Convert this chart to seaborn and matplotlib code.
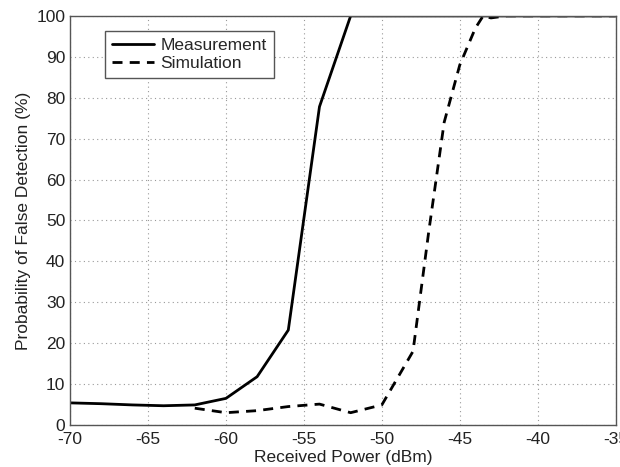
import pandas as pd
import seaborn as sns
import matplotlib.pyplot as plt

# values
meas_power = [-70, -68, -66, -64, -62, -60, -58, -56, -54, -52, -50, -45, -40, -35]
meas_prob = [5.4, 5.2, 4.9, 4.7, 4.9, 6.5, 11.8, 23.2, 77.8, 100, 100, 100, 100, 100]

sim_power = [-62, -60, -58, -56, -54, -52, -50, -48, -47, -46, -45, -44, -43.5, -43, -42, -40, -35]
sim_prob = [4.1, 3.0, 3.5, 4.5, 5.1, 3.0, 4.9, 18, 47, 74, 88, 97, 100, 99.5, 100, 100, 100]

df_meas = pd.DataFrame({'Received Power (dBm)': meas_power, 'prob': meas_prob})
df_sim = pd.DataFrame({'Received Power (dBm)': sim_power, 'prob': sim_prob})

sns.set_style('white')
plt.rcParams['font.family'] = ['Liberation Sans', 'DejaVu Sans']
plt.rcParams['axes.unicode_minus'] = False

fig, ax = plt.subplots(figsize=(6.2, 4.67), dpi=100)
fig.subplots_adjust(left=0.113, right=0.993, top=0.966, bottom=0.09)

sns.lineplot(x='Received Power (dBm)', y='prob', data=df_meas, color='black',
             linewidth=2, label='Measurement', ax=ax)
sns.lineplot(x='Received Power (dBm)', y='prob', data=df_sim, color='black',
             linewidth=2, linestyle=(0, (3.6, 2.6)), label='Simulation', ax=ax)

ax.set_xlim(-70, -35)
ax.set_ylim(0, 100)
ax.set_xticks(range(-70, -34, 5))
ax.set_yticks(range(0, 101, 10))
ax.grid(True, linestyle=(0, (1, 3)), color='#999999', linewidth=0.8)
ax.tick_params(direction='in', labelsize=12.5, length=4, colors='#222222')
ax.tick_params(axis='x', pad=5)
ax.set_xlabel('Received Power (dBm)', fontsize=12.5, labelpad=2, color='#222222')
ax.set_ylabel('Probability of False Detection (%)', fontsize=12.5, color='#222222')
for s in ax.spines.values():
    s.set_color('#555555')
    s.set_linewidth(1)

leg = ax.legend(loc='upper left', bbox_to_anchor=(0.048, 0.985), fontsize=12.5,
                fancybox=False, framealpha=1, edgecolor='#555555',
                handlelength=2.4, handletextpad=0.4, borderpad=0.4, labelspacing=0.2)
leg.get_frame().set_linewidth(1)

plt.savefig('out.png')
